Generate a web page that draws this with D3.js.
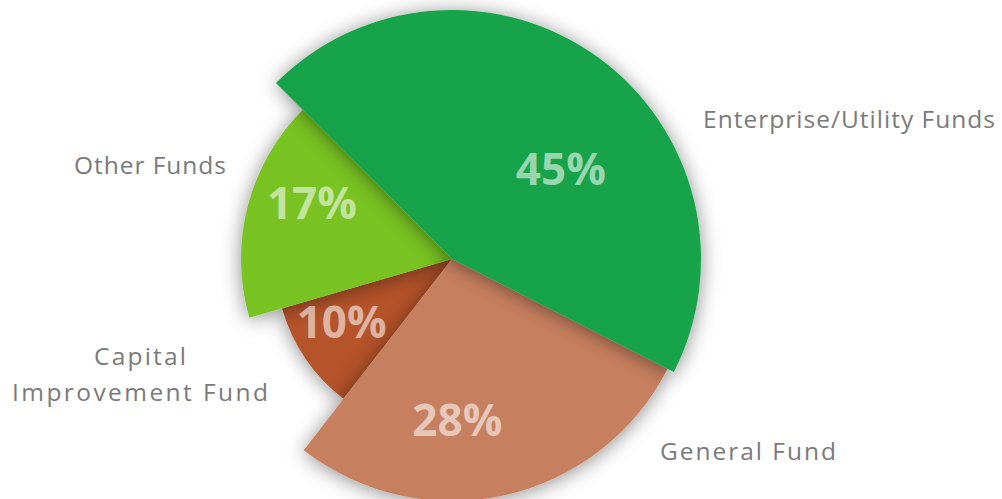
<!DOCTYPE html>
<html>
<head>
<meta charset="utf-8">
<script src="https://cdn.jsdelivr.net/npm/d3@7"></script>
<style>
  html, body { margin: 0; padding: 0; background: #ffffff; }
  svg { display: block; }
</style>
</head>
<body>
<svg id="chart" width="1002" height="499"></svg>
<script>
// Fund shares (percent of total budget)
const categories = ["Enterprise/Utility Funds", "General Fund", "Capital Improvement Fund", "Other Funds"];
const values = [45, 28, 10, 17];
const pctLabels = ["45%", "28%", "10%", "17%"];

// Slice styling and geometry per category
const sliceColors = ["#17a34a", "#c7805f", "#b5532a", "url(#otherGrad)"];
const sliceRadii = [249, 242, 177, 211];
// Painting order so each slice casts its shadow on the right neighbours
const drawOrder = [2, 3, 1, 0];

const width = 1002, height = 499;
const cx = 452, cy = 259;

const svg = d3.select("#chart");
const defs = svg.append("defs");

const shadow = defs.append("filter")
  .attr("id", "sliceShadow")
  .attr("x", "-30%").attr("y", "-30%")
  .attr("width", "160%").attr("height", "160%");
shadow.append("feDropShadow")
  .attr("dx", 0).attr("dy", 2)
  .attr("stdDeviation", 10)
  .attr("flood-color", "#000")
  .attr("flood-opacity", 0.45);

const grad = defs.append("linearGradient")
  .attr("id", "otherGrad")
  .attr("gradientUnits", "userSpaceOnUse")
  .attr("x1", cx - 211).attr("y1", 0)
  .attr("x2", cx).attr("y2", 0);
grad.append("stop").attr("offset", "0%").attr("stop-color", "#78c322");
grad.append("stop").attr("offset", "100%").attr("stop-color", "#a3d412");

const deg = Math.PI / 180;
const pie = d3.pie()
  .sort(null)
  .value(d => d)
  .startAngle(-45 * deg)
  .endAngle(315 * deg);

const arcs = pie(values);

const g = svg.append("g").attr("transform", `translate(${cx},${cy})`);

g.selectAll("path.slice")
  .data(drawOrder.map(i => ({ i, a: arcs[i] })))
  .join("path")
  .attr("class", "slice")
  .attr("d", d => d3.arc().innerRadius(0).outerRadius(sliceRadii[d.i])(d.a))
  .attr("fill", d => sliceColors[d.i])
  .attr("filter", "url(#sliceShadow)");

// Percentage labels inside the slices, placed along each slice's bisector
const pctPlace = [
  { shift: 14.5, r: 141 },
  { shift: 10.7, r: 161 },
  { shift: 4.5, r: 127 },
  { shift: 7.5, r: 151 }
];
g.selectAll("text.pct")
  .data(arcs)
  .join("text")
  .attr("class", "pct")
  .attr("x", (d, i) => {
    const a = (d.startAngle + d.endAngle) / 2 + pctPlace[i].shift * deg;
    return Math.sin(a) * pctPlace[i].r;
  })
  .attr("y", (d, i) => {
    const a = (d.startAngle + d.endAngle) / 2 + pctPlace[i].shift * deg;
    return -Math.cos(a) * pctPlace[i].r + 16;
  })
  .attr("text-anchor", "middle")
  .attr("font-family", "'Open Sans', sans-serif")
  .attr("font-weight", 700)
  .attr("font-size", 44)
  .attr("fill", "#ffffff")
  .attr("fill-opacity", 0.56)
  .text((d, i) => pctLabels[i]);

// Category names around the pie; each line is spread to its set width
const catPlace = [
  { x: cx + 251, y: 128, anchor: "start", widths: [292] },
  { x: cx + 208, y: 460, anchor: "start", widths: [176] },
  { x: cx - 312, y: 365, anchor: "middle", widths: [92, 256] },
  { x: cx - 226, y: 174, anchor: "end", widths: [152] }
];
const catText = svg.append("g")
  .attr("font-family", "'Open Sans', sans-serif")
  .attr("font-size", 24.5)
  .attr("fill", "#7a7a7a");

categories.forEach((name, i) => {
  const p = catPlace[i];
  const lines = name === "Capital Improvement Fund" ? ["Capital", "Improvement Fund"] : [name];
  const t = catText.append("text")
    .attr("x", p.x).attr("y", p.y)
    .attr("text-anchor", p.anchor);
  lines.forEach((line, j) => {
    t.append("tspan")
      .attr("x", p.x)
      .attr("dy", j === 0 ? 0 : 36)
      .attr("textLength", p.widths[j])
      .attr("lengthAdjust", "spacing")
      .text(line);
  });
});
</script>
</body>
</html>
